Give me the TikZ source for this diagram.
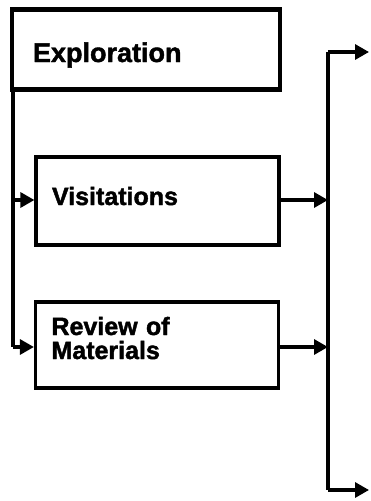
\documentclass[tikz,border=0pt]{standalone}
\usepackage{fontspec}
\setmainfont{Liberation Sans}
\newfontfamily\heavysans{Liberation Sans Bold}[FakeBold=1.6]
\usetikzlibrary{arrows.meta}
\begin{document}
\begin{tikzpicture}[x=1pt,y=-1pt,
  box/.style={draw=black, line width=3.2pt, fill=white, align=left,
    font=\heavysans\fontsize{25}{24}\selectfont, inner ysep=0pt},
  link/.style={line width=3.2pt, -{Triangle[length=14pt,width=15pt]}},
  wire/.style={line width=3.2pt}]
  \useasboundingbox (0,0) rectangle (370,501);

  % stage boxes; text is smashed so its baseline is set from the box centre
  \node[box, line width=4.5pt, minimum height=80pt, text width=226pt, inner xsep=21pt,
    font=\heavysans\fontsize{27}{26}\selectfont]
    (expl) at (146,49.5) {\smash{\raisebox{-12.5pt}{Exploration}}};
  \node[box, minimum height=88pt, text width=211pt, inner xsep=16pt]
    (visit) at (157.5,201) {\smash{\raisebox{-4pt}{Visitations}}};
  \node[box, minimum height=86pt, text width=211pt, inner xsep=16pt]
    (review) at (157,345) {\smash{\raisebox{-14pt}{\parbox[b]{211pt}{Review of\\Materials}}}};

  % left feed line
  \coordinate (lt) at (13,0 |- expl.south);
  \coordinate (lb) at (13,347);
  \coordinate (lv) at (13,200);
  \draw[wire] (lt) -- (lb);
  \draw[link] (lv) -- (visit.west |- lv);
  \draw[link] (lb) -- (review.west |- lb);

  % right collector line
  \coordinate (rt) at (328,52);
  \coordinate (rb) at (328,490);
  \coordinate (ot) at (369,52);
  \coordinate (ob) at (369,490);
  \draw[wire] (rt) -- (rb);
  \draw[link] (visit.east |- 0,200) -- (328,200);
  \draw[link] (review.east |- 0,347) -- (328,347);
  \draw[link] (rt) -- (ot);
  \draw[link] (rb) -- (ob);
\end{tikzpicture}
\end{document}
